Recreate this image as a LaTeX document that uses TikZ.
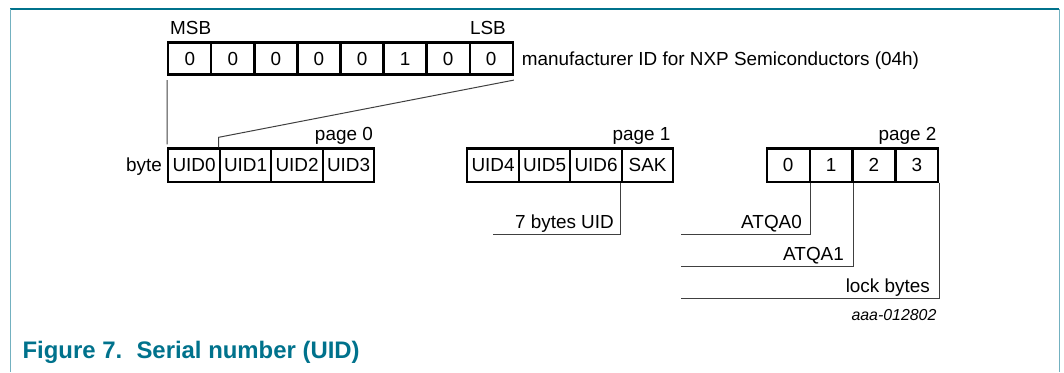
\documentclass[tikz,border=0pt]{standalone}
\usepackage{fontspec}
\setmainfont{Liberation Sans}
\usepackage{tikz}
\tikzset{>=latex}
\definecolor{nxpteal}{RGB}{0,114,140}
\tikzset{
  txt/.style={inner sep=0pt, font=\fontsize{18.9}{22}\selectfont},
  cell/.style={txt, draw, line width=2.2pt, minimum width=43.05pt, minimum height=32pt},
  wcell/.style={cell, minimum width=51.5pt, minimum height=33.2pt},
  ncell/.style={cell, minimum width=42.9pt, minimum height=33.2pt},
  link/.style={draw=black!75, line width=1pt}
}

\begin{document}
\begin{tikzpicture}[x=1pt,y=-1pt]
            \useasboundingbox (0,0) rectangle (1064,372);
            % frame
            \draw[nxpteal, line width=1.6pt] (10,9) -- (1059,9);
            \draw[nxpteal!55, line width=1pt] (10,9) -- (10,372);
            \draw[nxpteal!55, line width=1pt] (1059,9) -- (1059,372);
            % manufacturer byte
            \node[cell] (m0) at (189.8,58.5){0};
            \node[cell] (m1) at (232.9,58.5){0};
            \node[cell] (m2) at (275.9,58.5){0};
            \node[cell] (m3) at (319.0,58.5){0};
            \node[cell] (m4) at (362.0,58.5){0};
            \node[cell] (m5) at (405.1,58.5){1};
            \node[cell] (m6) at (448.1,58.5){0};
            \node[cell] (m7) at (491.2,58.5){0};
            \node[txt, anchor=base west] (msb) at (170,34.6){MSB};
            \node[txt, anchor=base east] (lsb) at (506,34.6){LSB};
            \node[txt, anchor=base west] (manu) at (521.7,65){manufacturer ID for NXP Semiconductors (04h)};
            % page 0
            \node[wcell] (u0) at (194.05,165){UID0};
            \node[wcell] (u1) at (245.55,165){UID1};
            \node[wcell] (u2) at (297.05,165){UID2};
            \node[wcell] (u3) at (348.55,165){UID3};
            \node[txt, anchor=base east] (byte) at (162,171.6){byte};
            \node[txt, anchor=base east] (pg0) at (373,140){page 0};
            % page 1
            \node[wcell] (u4) at (493.05,165){UID4};
            \node[wcell] (u5) at (544.55,165){UID5};
            \node[wcell] (u6) at (596.05,165){UID6};
            \node[wcell] (sak) at (647.55,165){SAK};
            \node[txt, anchor=base east] (pg1) at (670.5,140){page 1};
            % page 2
            \node[ncell] (b0) at (788.15,165){0};
            \node[ncell] (b1) at (831.05,165){1};
            \node[ncell] (b2) at (873.95,165){2};
            \node[ncell] (b3) at (916.85,165){3};
            \node[txt, anchor=base east] (pg2) at (936.7,140){page 2};
            % byte links
            \draw[link] ([yshift=-4.5pt]m0.south west) -- ([yshift=3pt]u0.north west);
            \draw[link] ([yshift=-4.5pt]m7.south east) -- ([yshift=10pt]u1.north west) -- (u1.north west);
            % labels below
            \coordinate (uidend) at (493.3,234);
            \coordinate (a0end) at (680.7,234);
            \coordinate (a1end) at (680.7,266.7);
            \coordinate (lkend) at (680.7,298.3);
            \draw[link] (sak.south west) |- (uidend);
            \draw[link] (b0.south east) |- (a0end);
            \draw[link] (b1.south east) |- (a1end);
            \draw[link] (b3.south east) |- (lkend);
            \node[txt, anchor=base east] (uid7) at (614,228.3){7 bytes UID};
            \node[txt, anchor=base east] (atqa0) at (802,228.3){ATQA0};
            \node[txt, anchor=base east] (atqa1) at (844,260){ATQA1};
            \node[txt, anchor=base east] (lock) at (930,292){lock bytes};
            \node[inner sep=0pt, anchor=base east, font=\fontsize{15.9}{18}\selectfont\itshape] (code) at (936.6,320.7){aaa-012802};
            % caption
            \node[inner sep=0pt, anchor=base west, text=nxpteal, font=\fontsize{23.9}{28}\selectfont\bfseries] (cap) at (22.4,358){Figure 7.\hspace{0.6em}Serial number (UID)};
        \end{tikzpicture}
\end{document}
